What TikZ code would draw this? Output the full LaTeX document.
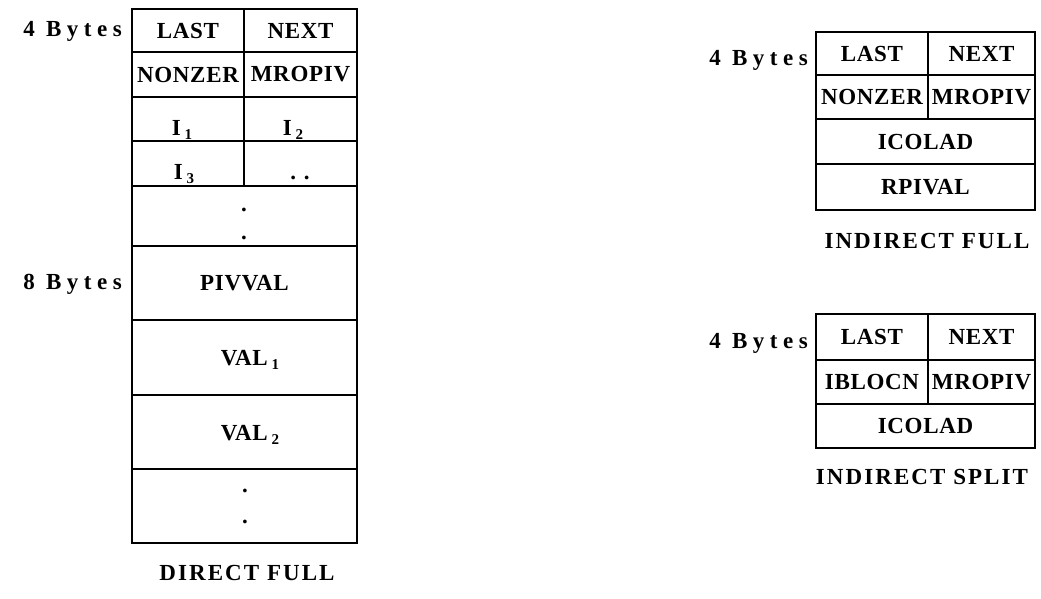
\documentclass[tikz,border=0pt]{standalone}
\usepackage{fontspec}
\setmainfont{Liberation Serif}
\newfontfamily\cellf[LetterSpace=3]{Liberation Serif}
\newfontfamily\bytef[LetterSpace=24]{Liberation Serif}
\newfontfamily\capf[LetterSpace=9]{Liberation Serif}
\newcommand\sub[1]{\,\raisebox{-4pt}{\fontsize{15}{15}\selectfont #1}}
\newcommand\cellbox[6]{%
  \node[cell, minimum width={(#4-#2)*1pt}, minimum height={(#5-#3)*1pt}] (#1) at ({(#2+#4)/2},{(#3+#5)/2}) {#6};}
\tikzset{
  cell/.style={draw, line width=2.2pt, inner sep=0pt, font=\cellf\bfseries\fontsize{23}{27}\selectfont},
  bytes/.style={anchor=east, inner sep=0pt, font=\bytef\bfseries\fontsize{23}{27}\selectfont},
  caption/.style={inner sep=0pt, font=\capf\bfseries\fontsize{23}{27}\selectfont},
  dotnode/.style={inner sep=0pt, font=\cellf\bfseries\fontsize{23}{27}\selectfont}
}
\begin{document}
\begin{tikzpicture}[x=1pt,y=-1pt]
\useasboundingbox (0,0) rectangle (1041,598);
% Direct full
\cellbox{dlast}{132}{9}{244}{52}{LAST}
\cellbox{dnext}{244}{9}{357}{52}{NEXT}
\cellbox{dnonzer}{132}{52}{244}{97}{NONZER}
\cellbox{dmropiv}{244}{52}{357}{97}{MROPIV}
\cellbox{di1}{132}{97}{244}{141}{}
\cellbox{di2}{244}{97}{357}{141}{}
\cellbox{di3}{132}{141}{244}{186}{}
\cellbox{ddd}{244}{141}{357}{186}{}
\cellbox{ddots}{132}{186}{357}{246}{}
\cellbox{dpiv}{132}{246}{357}{320}{PIVVAL}
\cellbox{dval1}{132}{320}{357}{395}{}
\cellbox{dval2}{132}{395}{357}{469}{}
\cellbox{dend}{132}{469}{357}{543}{}
\node[dotnode, anchor=base] (ti1) at (182,135) {I\sub{1}};
\node[dotnode, anchor=base] (ti2) at (293,135) {I\sub{2}};
\node[dotnode, anchor=base] (ti3) at (184,179) {I\sub{3}};
\node[dotnode, anchor=base] (tdd) at (300,179) {.\,\,.};
\node[dotnode, anchor=base] (tv1) at (250,365) {VAL\sub{1}};
\node[dotnode, anchor=base] (tv2) at (250,440) {VAL\sub{2}};
\node[dotnode, anchor=base] (d1) at (244,211) {.};
\node[dotnode, anchor=base] (d2) at (244,239) {.};
\node[dotnode, anchor=base] (d3) at (245,492) {.};
\node[dotnode, anchor=base] (d4) at (245,523) {.};
\node[bytes] (b4a) at (122,31) {4 Bytes};
\node[bytes] (b8) at (122,284) {8 Bytes};
\node[caption] (cdf) at (247,573) {DIRECT FULL};
% Indirect full
\cellbox{flast}{816}{32}{928}{75}{LAST}
\cellbox{fnext}{928}{32}{1035}{75}{NEXT}
\cellbox{fnonzer}{816}{75}{928}{119}{NONZER}
\cellbox{fmropiv}{928}{75}{1035}{119}{MROPIV}
\cellbox{ficolad}{816}{119}{1035}{164}{ICOLAD}
\cellbox{frpival}{816}{164}{1035}{210}{RPIVAL}
\node[bytes] (b4b) at (808,60) {4 Bytes};
\node[caption] (cif) at (927,241) {INDIRECT FULL};
% Indirect split
\cellbox{slast}{816}{314}{928}{360}{LAST}
\cellbox{snext}{928}{314}{1035}{360}{NEXT}
\cellbox{siblocn}{816}{360}{928}{404}{IBLOCN}
\cellbox{smropiv}{928}{360}{1035}{404}{MROPIV}
\cellbox{sicolad}{816}{404}{1035}{448}{ICOLAD}
\node[bytes] (b4c) at (808,343) {4 Bytes};
\node[caption] (cis) at (922,477) {INDIRECT SPLIT};
\end{tikzpicture}
\end{document}
